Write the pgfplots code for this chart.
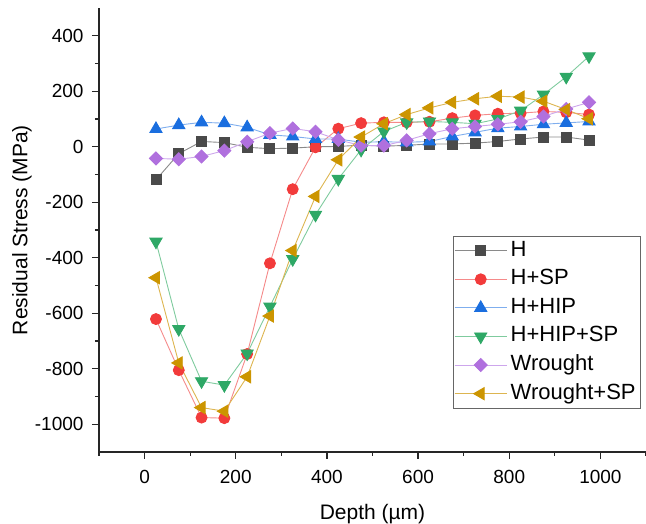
\documentclass[border=0pt]{standalone}
\usepackage{fontspec}
\setmainfont{Liberation Sans}
\usepackage{pgfplots}
\usepackage{pgfplotstable}
\pgfplotsset{compat=1.18}
\definecolor{mH}{HTML}{4A4A4A}\definecolor{lH}{HTML}{8A8A8A}
\definecolor{mSP}{HTML}{F23B3B}\definecolor{lSP}{HTML}{F58A8A}
\definecolor{mHIP}{HTML}{1A6EDF}\definecolor{lHIP}{HTML}{7FAEEE}
\definecolor{mHHS}{HTML}{2EA866}\definecolor{lHHS}{HTML}{7FCB9E}
\definecolor{mW}{HTML}{B070DE}\definecolor{lW}{HTML}{CDA6EC}
\definecolor{mWS}{HTML}{CC9500}\definecolor{lWS}{HTML}{DDB550}
\pgfplotstableread{
x H HSP HHIP HHIPSP W WSP
25 -119 -621 64 -342 -42 -472
75 -25 -805 78 -657 -45 -779
125 19 -976 88 -845 -35 -940
175 15 -978 85 -859 -14 -953
225 -2 -747 70 -745 18 -829
275 -7 -420 43 -576 49 -610
325 -5 -153 37 -405 66 -374
375 0 -2 28 -245 54 -179
425 1 65 28 -116 25 -47
475 6 85 16 -11 4 35
525 2 88 18 55 4 83
575 5 88 16 88 23 116
625 10 90 19 91 47 140
675 10 103 37 88 65 160
725 13 113 52 83 73 173
775 19 119 67 100 81 182
825 28 121 73 130 90 179
875 35 127 81 188 109 164
925 35 124 86 252 136 134
975 24 116 91 326 160 101
}\data
\begin{document}
\begin{tikzpicture}
\begin{axis}[
  scale only axis, width=547pt, height=444pt,
  xmin=-100, xmax=1100, ymin=-1100, ymax=500,
  axis x line*=bottom, axis y line*=left,
  axis line style={line width=1.4pt, black!85},
  xtick={0,200,...,1000}, minor xtick={-100,100,...,1100},
  ytick={-1000,-800,...,400}, minor ytick={-900,-700,...,300},
  tick align=outside, major tick length=7pt, minor tick length=4pt,
  every tick/.style={line width=1.2pt, black!85},
  /pgf/number format/assume math mode=true,
  /pgf/number format/1000 sep={},
  ticklabel style={font=\fontsize{19}{21}\selectfont},
  yticklabel style={xshift=-5pt},
  xticklabel style={yshift=-8pt},
  every axis x label/.style={at={(rel axis cs:0.5,0)}, yshift=-62pt, anchor=center},
  every axis y label/.style={at={(rel axis cs:0,0.5)}, xshift=-77pt, rotate=90, anchor=center},
  label style={font=\fontsize{21}{24}\selectfont},
  xlabel={Depth (µm)}, ylabel={Residual Stress (MPa)},
  legend cell align=left,
  legend style={at={(rel axis cs:0.990,0.4865)}, anchor=north east,
    draw=black!60, line width=0.8pt, font=\fontsize{22}{25}\selectfont,
    inner xsep=1pt, inner ysep=0pt, row sep=0pt,
    nodes={text height=16pt, text depth=5pt, inner ysep=3.8pt, inner xsep=3.5pt}},
  legend image code/.code={\draw[mark repeat=2,mark phase=2] plot coordinates {(0pt,0pt) (26pt,0pt) (52pt,0pt)};},
  every axis plot/.append style={line width=0.9pt},
]
\coordinate (sw) at (rel axis cs:0,0);
\addplot[lH, mark=square*, mark size=5pt, mark options={draw=mH, fill=mH}] table[x=x,y=H]{\data};
\addlegendentry{H}
\addplot[lSP, mark=*, mark size=5.5pt, mark options={draw=mSP, fill=mSP}] table[x=x,y=HSP]{\data};
\addlegendentry{H+SP}
\addplot[lHIP, mark=triangle*, mark size=7pt, mark options={draw=mHIP, fill=mHIP}] table[x=x,y=HHIP]{\data};
\addlegendentry{H+HIP}
\addplot[lHHS, mark=triangle*, mark size=7pt, mark options={draw=mHHS, fill=mHHS, rotate=180}] table[x=x,y=HHIPSP]{\data};
\addlegendentry{H+HIP+SP}
\addplot[lW, mark=square*, mark size=4.6pt, mark options={draw=mW, fill=mW, rotate=45}] table[x=x,y=W]{\data};
\addlegendentry{Wrought}
\addplot[lWS, mark=triangle*, mark size=7pt, mark options={draw=mWS, fill=mWS, rotate=90}] table[x=x,y=WSP]{\data};
\addlegendentry{Wrought+SP}
\end{axis}
\pgfresetboundingbox
\path[use as bounding box] (sw) ++(-99pt,-72pt) rectangle ++(646pt,524pt);
\end{tikzpicture}
\end{document}
